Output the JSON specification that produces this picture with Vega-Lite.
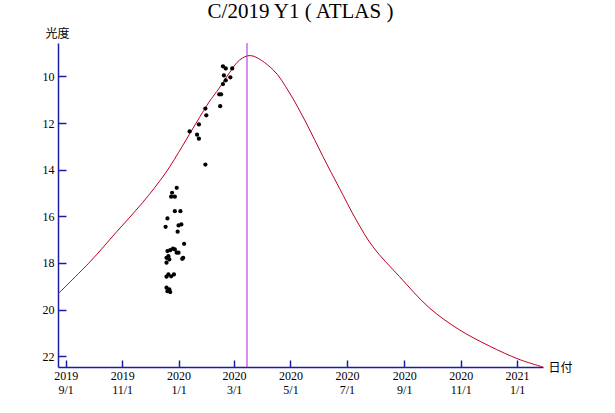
{
  "$schema": "https://vega.github.io/schema/vega-lite/v6.json",
  "width": 485,
  "height": 324,
  "autosize": "none",
  "padding": {"left": 58, "top": 43, "right": 72, "bottom": 46},
  "background": "white",
  "title": {
    "text": "C/2019 Y1 ( ATLAS )",
    "font": "Liberation Serif",
    "fontSize": 21,
    "fontWeight": "normal",
    "color": "black",
    "baseline": "alphabetic",
    "offset": 6,
    "dy": 18
  },
  "datasets": {
    "curve": [
      {"date": "2019-08-23", "mag": 19.35},
      {"date": "2019-09-28", "mag": 17.92},
      {"date": "2019-10-25", "mag": 16.71},
      {"date": "2019-11-23", "mag": 15.42},
      {"date": "2019-12-18", "mag": 14.14},
      {"date": "2020-01-05", "mag": 13.0},
      {"date": "2020-01-20", "mag": 12.0},
      {"date": "2020-02-03", "mag": 11.1},
      {"date": "2020-02-14", "mag": 10.5},
      {"date": "2020-02-25", "mag": 9.85},
      {"date": "2020-03-07", "mag": 9.3},
      {"date": "2020-03-19", "mag": 9.11},
      {"date": "2020-04-12", "mag": 9.71},
      {"date": "2020-04-30", "mag": 10.71},
      {"date": "2020-05-18", "mag": 12.0},
      {"date": "2020-06-05", "mag": 13.43},
      {"date": "2020-06-23", "mag": 14.8},
      {"date": "2020-07-11", "mag": 16.15},
      {"date": "2020-07-29", "mag": 17.3},
      {"date": "2020-08-27", "mag": 18.59},
      {"date": "2020-09-28", "mag": 19.92},
      {"date": "2020-10-30", "mag": 20.85},
      {"date": "2020-12-02", "mag": 21.56},
      {"date": "2021-01-03", "mag": 22.13},
      {"date": "2021-01-29", "mag": 22.46}
    ],
    "obs": [
      {"date": "2019-12-30", "mag": 14.78},
      {"date": "2019-12-25", "mag": 14.99},
      {"date": "2019-12-24", "mag": 15.16},
      {"date": "2019-12-28", "mag": 15.16},
      {"date": "2019-12-28", "mag": 15.78},
      {"date": "2020-01-03", "mag": 15.78},
      {"date": "2019-12-20", "mag": 16.09},
      {"date": "2019-12-18", "mag": 16.45},
      {"date": "2020-01-01", "mag": 16.39},
      {"date": "2020-01-04", "mag": 16.35},
      {"date": "2019-12-31", "mag": 16.66},
      {"date": "2020-01-07", "mag": 17.18},
      {"date": "2019-12-20", "mag": 17.49},
      {"date": "2019-12-23", "mag": 17.45},
      {"date": "2019-12-26", "mag": 17.39},
      {"date": "2019-12-28", "mag": 17.42},
      {"date": "2019-12-30", "mag": 17.56},
      {"date": "2020-01-01", "mag": 17.56},
      {"date": "2019-12-21", "mag": 17.71},
      {"date": "2019-12-22", "mag": 17.85},
      {"date": "2019-12-19", "mag": 17.78},
      {"date": "2020-01-05", "mag": 17.82},
      {"date": "2020-01-06", "mag": 17.78},
      {"date": "2019-12-19", "mag": 17.99},
      {"date": "2019-12-21", "mag": 18.49},
      {"date": "2019-12-24", "mag": 18.57},
      {"date": "2019-12-19", "mag": 18.59},
      {"date": "2019-12-27", "mag": 18.49},
      {"date": "2019-12-19", "mag": 19.06},
      {"date": "2019-12-22", "mag": 19.13},
      {"date": "2019-12-20", "mag": 19.21},
      {"date": "2019-12-23", "mag": 19.25},
      {"date": "2020-02-18", "mag": 9.57},
      {"date": "2020-02-21", "mag": 9.66},
      {"date": "2020-02-28", "mag": 9.66},
      {"date": "2020-02-19", "mag": 9.96},
      {"date": "2020-02-21", "mag": 10.17},
      {"date": "2020-02-26", "mag": 10.04},
      {"date": "2020-02-18", "mag": 10.33},
      {"date": "2020-02-14", "mag": 10.77},
      {"date": "2020-02-16", "mag": 10.77},
      {"date": "2020-02-15", "mag": 11.28},
      {"date": "2020-01-30", "mag": 11.38},
      {"date": "2020-01-31", "mag": 11.67},
      {"date": "2020-01-23", "mag": 12.06},
      {"date": "2020-01-13", "mag": 12.36},
      {"date": "2020-01-21", "mag": 12.5},
      {"date": "2020-01-23", "mag": 12.67},
      {"date": "2020-01-30", "mag": 13.78}
    ],
    "perihelion": [
      {"date": "2020-03-15"}
    ]
  },
  "encoding": {
    "x": {
      "field": "date",
      "type": "temporal",
      "title": "日付",
      "scale": {
        "type": "utc",
        "domain": [
          {"year": 2019, "month": 8, "date": 23, "hours": 16, "utc": true},
          {"year": 2021, "month": 1, "date": 29, "utc": true}
        ],
        "nice": false
      },
      "axis": {
        "values": [
          {"year": 2019, "month": 9, "date": 1, "utc": true},
          {"year": 2019, "month": 11, "date": 1, "utc": true},
          {"year": 2020, "month": 1, "date": 1, "utc": true},
          {"year": 2020, "month": 3, "date": 1, "utc": true},
          {"year": 2020, "month": 5, "date": 1, "utc": true},
          {"year": 2020, "month": 7, "date": 1, "utc": true},
          {"year": 2020, "month": 9, "date": 1, "utc": true},
          {"year": 2020, "month": 11, "date": 1, "utc": true},
          {"year": 2021, "month": 1, "date": 1, "utc": true}
        ],
        "labelExpr": "[utcFormat(datum.value, '%Y'), utcFormat(datum.value, '%-m/%-d')]",
        "labelBaseline": "top",
        "labelLineHeight": 14,
        "tickSize": -7,
        "labelPadding": 10,
        "titleAngle": 0,
        "titleX": 502,
        "titleY": 0,
        "titleAlign": "center",
        "titleBaseline": "middle"
      }
    },
    "y": {
      "field": "mag",
      "type": "quantitative",
      "title": "光度",
      "scale": {"domain": [8.57, 22.46], "reverse": true, "nice": false, "zero": false},
      "axis": {
        "values": [10, 12, 14, 16, 18, 20, 22],
        "tickSize": -8,
        "labelPadding": 12,
        "titleAngle": 0,
        "titleX": -1,
        "titleY": -10,
        "titleAlign": "center",
        "titleBaseline": "middle"
      }
    }
  },
  "layer": [
    {
      "data": {"name": "curve"},
      "mark": {"type": "line", "color": "#c00020", "strokeWidth": 1, "interpolate": "catmull-rom", "clip": true}
    },
    {
      "data": {"name": "perihelion"},
      "mark": {"type": "rule", "color": "#b020e0", "strokeWidth": 1},
      "encoding": {"y": null}
    },
    {
      "data": {"name": "obs"},
      "mark": {"type": "circle", "color": "black", "size": 18, "opacity": 1}
    }
  ],
  "config": {
    "view": {"stroke": null},
    "axis": {
      "grid": false,
      "domainColor": "#1c1ca8",
      "domainWidth": 1.5,
      "tickColor": "#1c1ca8",
      "tickWidth": 1.5,
      "labelFont": "Liberation Sans Narrow",
      "labelFontSize": 12,
      "labelColor": "black",
      "titleFont": "Noto Sans CJK JP",
      "titleFontSize": 12,
      "titleFontWeight": "normal",
      "titleColor": "black"
    }
  }
}
